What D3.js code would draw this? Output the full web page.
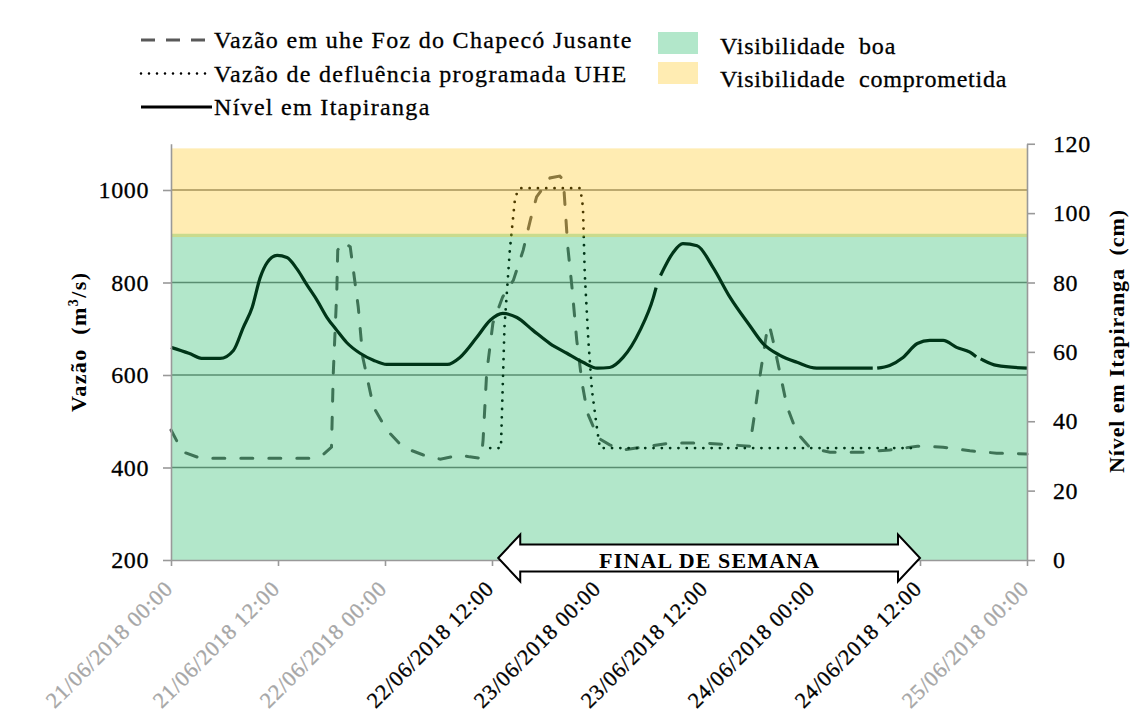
<!DOCTYPE html>
<html>
<head>
<meta charset="utf-8">
<script src="https://cdn.jsdelivr.net/npm/d3@7"></script>
<style>
body { margin: 0; background: #fff; }
text { font-family: "Liberation Serif", "Times New Roman", serif; white-space: pre; }
</style>
</head>
<body>
<div id="chart"></div>
<script>
// horas contadas a partir de 21/06/2018 00:00
var tickHoras = [0, 12, 24, 36, 48, 60, 72, 84, 96];
var tickLabels = ["21/06/2018 00:00", "21/06/2018 12:00", "22/06/2018 00:00",
                  "22/06/2018 12:00", "23/06/2018 00:00", "23/06/2018 12:00",
                  "24/06/2018 00:00", "24/06/2018 12:00", "25/06/2018 00:00"];
var vazaoTicks = [200, 400, 600, 800, 1000];
var nivelTicks = [0, 20, 40, 60, 80, 100, 120];

// Nível em Itapiranga (cm) - eixo direito
var nivelHoras = [0, 2, 3.6, 5.5, 7, 8.1, 9.1, 10, 10.8, 11.9, 13, 14.1, 15.3, 16.4, 17.5,
                  18.6, 19.7, 21.2, 22.7, 24.2, 31, 32.4, 34.3, 35.8, 37.2, 38.8, 40.6, 42.5,
                  44.4, 46.2, 47.8, 49.2, 50.7, 52.6, 54.1, 54.4, 54.6, 54.9, 56.3, 57.4, 59,
                  60.8, 62.7, 64.9, 66.4, 68.3, 70.2, 72.4, 78.7, 78.9, 79.2, 80.6, 82.1, 83.7,
                  85.1, 86.6, 88.1, 89.6, 90.3, 90.5, 90.8, 91.1, 92.6, 96];
var nivelCm = [61.3, 59.6, 58.1, 58.1, 60.4, 67, 72.8, 81.4, 85.8, 87.8, 87.2, 84, 79.1, 74.8, 69.9,
               66.2, 62.7, 59.6, 57.6, 56.4, 56.4, 58.4, 64.2, 69.1, 71.1, 69.9, 66.2, 62.4,
               59.6, 57, 55.3, 55.5, 58.4, 66.2, 75.7, 78.5, null, 82, 88.6, 91.2, 90.6,
               84.3, 75.7, 67.6, 62.4, 59, 57, 55.3, 55.3, null, 55.3, 56.1, 58.4, 62.4,
               63.3, 63.3, 61.3, 59.9, 58.6, null, 58, 57.6, 56.1, 55.3];

// Vazão em uhe Foz do Chapecó Jusante (m3/s)
var jusanteHoras = [0, 1.3, 3.3, 15.6, 17, 18, 18.2, 18.6, 18.7, 19.3, 20.1, 20.4, 21, 21.5, 22.7,
                    24.2, 26, 28.3, 30.2, 32.4, 33.5, 34.8, 35, 35.4, 36.1, 37.2, 38.4, 39.5,
                    40.3, 41, 42.5, 43.6, 44, 44.2, 44.5, 45, 45.5, 46.1, 46.7, 47.9, 49.2,
                    50.7, 52.9, 56, 59.7, 62.7, 64.9, 65.3, 66.1, 66.8, 67.1, 67.5, 68.3, 69.1,
                    70.2, 71.7, 73.9, 77.6, 80.6, 83.7, 86.6, 89.6, 92.6, 96];
var jusanteVazao = [481, 434, 420, 420, 427, 444, 604, 784, 870, 888, 877, 834, 747, 639, 531,
                    481, 444, 427, 418, 427, 423, 420, 459, 604, 712, 769, 805, 870,
                    935, 985, 1026, 1030, 1022, 963, 877, 784, 676, 583, 518, 464, 449,
                    438, 444, 453, 453, 449, 446, 496, 604, 691, 708, 676, 604, 531,
                    475, 442, 433, 433, 438, 446, 444, 436, 431, 429];

// Vazão de defluência programada UHE (m3/s)
var defluenciaHoras = [35.8, 37, 37.4, 38, 38.6, 39.1, 45.9, 46.2, 46.4, 46.8, 47.2, 47.8, 48.1, 83.2];
var defluenciaVazao = [442, 442, 704, 870, 985, 1004, 1004, 963, 820, 676, 568, 481, 442, 442];

// faixas de visibilidade (m3/s)
var limiteBoa = 900;
var limiteTopo = 1090;

// fim de semana (horas)
var fimSemanaInicio = 36.7;
var fimSemanaFim = 84;

var legendaLinhas = ["Vazão em uhe Foz do Chapecó Jusante",
                     "Vazão de defluência programada UHE",
                     "Nível em Itapiranga"];
var legendaFaixas = ["Visibilidade  boa", "Visibilidade  comprometida"];

var W = 1132, H = 713;
var svg = d3.select("#chart").append("svg")
    .attr("width", W)
    .attr("height", H);

var x = d3.scaleLinear().domain([0, 96]).range([171, 1027]);
var yL = d3.scaleLinear().domain([200, 1100]).range([560, 143.75]);
var yR = d3.scaleLinear().domain([0, 120]).range([560, 143.75]);

var verde = "#00B050", laranja = "#FFC000";

// gridlines
svg.append("g").selectAll("line")
    .data(vazaoTicks.filter(function(d) { return d > 200; }))
    .enter().append("line")
    .attr("x1", x(0)).attr("x2", x(96))
    .attr("y1", function(d) { return yL(d); })
    .attr("y2", function(d) { return yL(d); })
    .style("stroke", "#808080")
    .style("stroke-width", 1.6);

function zip(hs, vs) {
    return hs.map(function(h, i) { return {h: h, v: vs[i]}; });
}

var lineL = d3.line()
    .defined(function(d) { return d.v != null; })
    .x(function(d) { return x(d.h); })
    .y(function(d) { return yL(d.v); });
var lineR = d3.line()
    .defined(function(d) { return d.v != null; })
    .curve(d3.curveMonotoneX)
    .x(function(d) { return x(d.h); })
    .y(function(d) { return yR(d.v); });

svg.append("path")
    .attr("d", lineL(zip(jusanteHoras, jusanteVazao)))
    .style("fill", "none")
    .style("stroke", "#595959")
    .style("stroke-width", 3)
    .style("stroke-linecap", "round")
    .style("stroke-dasharray", "12,16");

svg.append("path")
    .attr("d", lineL(zip(defluenciaHoras, defluenciaVazao)))
    .style("fill", "none")
    .style("stroke", "#000")
    .style("stroke-width", 2.8)
    .style("stroke-linecap", "round")
    .style("stroke-dasharray", "0,8.3");

svg.append("path")
    .attr("d", lineR(zip(nivelHoras, nivelCm)))
    .style("fill", "none")
    .style("stroke", "#000")
    .style("stroke-width", 3.2)
    .style("stroke-linejoin", "round");

// faixas transparentes por cima das linhas
svg.append("rect")
    .attr("x", x(0) + 1).attr("width", x(96) - x(0) - 1)
    .attr("y", yL(limiteBoa) - 2.5)
    .attr("height", yL(200) - yL(limiteBoa) + 2.5)
    .style("fill", verde).style("fill-opacity", 0.3);
svg.append("rect")
    .attr("x", x(0) + 1).attr("width", x(96) - x(0) - 1)
    .attr("y", yL(limiteTopo))
    .attr("height", yL(limiteBoa) - yL(limiteTopo) + 0.8)
    .style("fill", laranja).style("fill-opacity", 0.3);

// eixos
var axL = svg.append("g")
    .attr("transform", "translate(" + x(0) + ",0)")
    .call(d3.axisLeft(yL).tickValues(vazaoTicks).tickFormat(d3.format("d"))
        .tickSize(8).tickSizeOuter(0).tickPadding(14));
var axR = svg.append("g")
    .attr("transform", "translate(" + x(96) + ",0)")
    .call(d3.axisRight(yR).tickValues(nivelTicks).tickFormat(d3.format("d"))
        .tickSize(8).tickSizeOuter(0).tickPadding(18));
var axX = svg.append("g")
    .attr("transform", "translate(0," + yL(200) + ")")
    .call(d3.axisBottom(x).tickValues(tickHoras).tickSize(6).tickSizeOuter(0).tickFormat(""));

[axL, axR, axX].forEach(function(g) {
    g.selectAll("path, line").style("stroke", "#999").style("stroke-width", 1.6);
    g.selectAll("text")
        .style("font-family", "'Liberation Serif', serif")
        .style("font-size", "24px")
        .style("letter-spacing", "0.6px")
        .style("fill", "#000")
        .style("stroke", "#000")
        .style("stroke-width", 0.3);
});

// rótulos de data
svg.append("g").selectAll("text")
    .data(tickHoras)
    .enter().append("text")
    .attr("transform", function(d) {
        return "translate(" + (x(d) + 3) + "," + 590 + ") rotate(-45)";
    })
    .attr("text-anchor", "end")
    .style("font-size", "22px")
    .style("letter-spacing", "0.8px")
    .each(function(d) {
        var c = (d >= 36 && d <= fimSemanaFim) ? "#000" : "#a6a6a6";
        d3.select(this).style("fill", c).style("stroke", c).style("stroke-width", 0.3);
    })
    .text(function(d, i) { return tickLabels[i]; });

// títulos dos eixos
svg.append("text")
    .attr("transform", "translate(86,342.5) rotate(-90)")
    .attr("text-anchor", "middle")
    .attr("textLength", 139)
    .attr("lengthAdjust", "spacing")
    .style("font-size", "22px")
    .style("font-weight", "bold")
    .html("Vazão  (m<tspan dy='-8' font-size='14px'>3</tspan><tspan dy='8'>/s)</tspan>");

svg.append("text")
    .attr("transform", "translate(1124,341.5) rotate(-90)")
    .attr("text-anchor", "middle")
    .attr("textLength", 263)
    .attr("lengthAdjust", "spacing")
    .style("font-size", "22px")
    .style("font-weight", "bold")
    .text("Nível em Itapiranga  (cm)");

// seta do fim de semana
var ax0 = x(fimSemanaInicio), ax1 = x(fimSemanaFim), acy = 558;
var hl = 22, hh = 23.5, bh = 13.5;
var seta = [[ax0, acy], [ax0 + hl, acy - hh], [ax0 + hl, acy - bh], [ax1 - hl, acy - bh],
            [ax1 - hl, acy - hh], [ax1, acy], [ax1 - hl, acy + hh], [ax1 - hl, acy + bh],
            [ax0 + hl, acy + bh], [ax0 + hl, acy + hh]];
svg.append("path")
    .attr("d", "M" + seta.join("L") + "Z")
    .style("fill", "#fff")
    .style("stroke", "#000")
    .style("stroke-width", 2);
svg.append("text")
    .attr("x", (ax0 + ax1) / 2)
    .attr("y", 567.5)
    .attr("text-anchor", "middle")
    .attr("textLength", 220)
    .attr("lengthAdjust", "spacing")
    .style("font-size", "22px")
    .style("font-weight", "bold")
    .text("FINAL DE SEMANA");

// legenda das linhas
var estilos = [
    {stroke: "#595959", w: 3, dash: "14,11", cap: "butt"},
    {stroke: "#000", w: 2.6, dash: "0,8", cap: "round"},
    {stroke: "#000", w: 3.2, dash: null, cap: "butt"}
];
var legL = svg.append("g");
legendaLinhas.forEach(function(t, i) {
    var cy = 40 + i * 33.5;
    legL.append("line")
        .attr("x1", 141).attr("x2", 212)
        .attr("y1", cy).attr("y2", cy)
        .style("stroke", estilos[i].stroke)
        .style("stroke-width", estilos[i].w)
        .style("stroke-linecap", estilos[i].cap)
        .style("stroke-dasharray", estilos[i].dash);
    legL.append("text")
        .attr("x", 214).attr("y", cy + 8)
        .style("font-size", "24px")
        .style("letter-spacing", "1.3px")
        .style("stroke", "#000")
        .style("stroke-width", 0.3)
        .text(t);
});

// legenda das faixas
var legR = svg.append("g");
[verde, laranja].forEach(function(c, i) {
    legR.append("rect")
        .attr("x", 658).attr("y", 32 + i * 30)
        .attr("width", 40).attr("height", 22)
        .style("fill", c).style("fill-opacity", 0.3);
    legR.append("text")
        .attr("x", 720).attr("y", 54 + i * 33)
        .style("font-size", "24px")
        .style("letter-spacing", "0.8px")
        .style("stroke", "#000")
        .style("stroke-width", 0.3)
        .text(legendaFaixas[i]);
});
</script>
</body>
</html>
